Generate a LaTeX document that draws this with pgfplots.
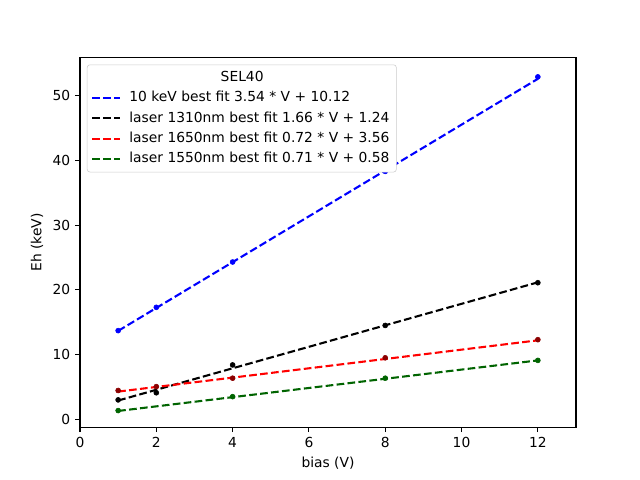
\documentclass[border=0pt]{standalone}
\usepackage{pgfplots}
\pgfplotsset{compat=1.18}
\usepackage{fontspec}
\setmainfont{DejaVu Sans}
\definecolor{mplgreen}{rgb}{0,0.392,0}
\definecolor{mpldred}{rgb}{0.545,0,0}
\begin{document}
\begin{tikzpicture}[x=1in,y=1in]
\path[use as bounding box, fill=white] (0,0) rectangle (6.4,4.8);
\begin{axis}[
  at={(0.8in,0.528in)}, anchor=south west,
  width=4.96in, height=3.696in, scale only axis,
  xmin=0, xmax=13, ymin=-1.22, ymax=55.88,
  xtick={0,2,...,12}, ytick={0,10,...,50},
  tick align=outside, major tick length=3.5pt,
  tick style={black, line width=0.8pt},
  axis line style={line width=0.8pt},
  xtick pos=bottom, ytick pos=left,
  /pgf/number format/assume math mode=true,
  ticklabel style={font=\fontsize{10}{12}\selectfont},
  label style={font=\fontsize{10}{12}\selectfont},
  xlabel={bias (V)}, ylabel={Eh (keV)},
  legend cell align=left,
  legend image code/.code={\draw[#1] (0pt,0pt) -- (20pt,0pt);},
  legend style={at={(0,1)}, anchor=north west, xshift=5pt, yshift=-5pt,
    draw=black!20, rounded corners=2pt, font=\fontsize{10}{12}\selectfont,
    row sep=0pt, column sep=4pt, nodes={inner sep=2pt, text height=8pt, text depth=2.7pt}},
]
\addlegendimage{empty legend}
\addlegendentry{\hspace*{66pt}SEL40}
% data points
\addplot[only marks, mark=*, mark size=1.8pt, blue, forget plot] coordinates {(1,13.7) (2,17.3) (4,24.3) (8,38.3) (12,52.9)};
\addplot[only marks, mark=*, mark size=1.8pt, black, forget plot] coordinates {(1,3.0) (2,4.1) (4,8.4) (8,14.5) (12,21.1)};
\addplot[only marks, mark=*, mark size=1.8pt, mpldred, forget plot] coordinates {(1,4.45) (2,5.05) (4,6.35) (8,9.5) (12,12.3)};
\addplot[only marks, mark=*, mark size=1.8pt, mplgreen, forget plot] coordinates {(1,1.35) (4,3.5) (8,6.35) (12,9.1)};
% fits
\addplot[blue, line width=1.5pt, dash pattern=on 5.55pt off 2.4pt] coordinates {(1,13.66) (2,17.20) (4,24.28) (8,38.44) (12,52.60)};
\addlegendentry{10 keV best fit 3.54 * V + 10.12}
\addplot[black, line width=1.5pt, dash pattern=on 5.55pt off 2.4pt] coordinates {(1,2.90) (2,4.56) (4,7.88) (8,14.52) (12,21.16)};
\addlegendentry{laser 1310nm best fit 1.66 * V + 1.24}
\addplot[red, line width=1.5pt, dash pattern=on 5.55pt off 2.4pt] coordinates {(1,4.28) (2,5.00) (4,6.44) (8,9.32) (12,12.20)};
\addlegendentry{laser 1650nm best fit 0.72 * V + 3.56}
\addplot[mplgreen, line width=1.5pt, dash pattern=on 5.55pt off 2.4pt] coordinates {(1,1.29) (4,3.42) (8,6.26) (12,9.10)};
\addlegendentry{laser 1550nm best fit 0.71 * V + 0.58}
\end{axis}
\end{tikzpicture}
\end{document}
